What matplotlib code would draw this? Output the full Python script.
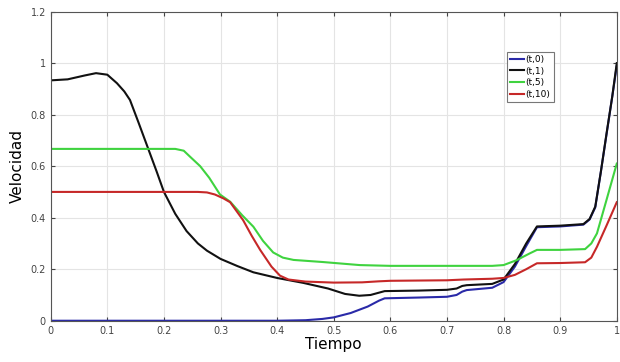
import numpy as np
from matplotlib import pyplot as plt

# values
x_t0 = [0, 0.1, 0.2, 0.3, 0.4, 0.45, 0.48, 0.5, 0.53, 0.56, 0.58, 0.59, 0.65, 0.7, 0.717, 0.727, 0.735, 0.78, 0.8, 0.82, 0.84, 0.859, 0.9, 0.941, 0.952, 0.962, 0.972, 0.982, 0.992, 1.0]
y_t0 = [0, 0, 0, 0, 0, 0.002, 0.007, 0.013, 0.03, 0.055, 0.078, 0.087, 0.09, 0.093, 0.1, 0.113, 0.119, 0.128, 0.15, 0.21, 0.29, 0.363, 0.366, 0.373, 0.393, 0.44, 0.58, 0.725, 0.87, 0.99]

x_t1 = [0, 0.03, 0.06, 0.08, 0.1, 0.117, 0.13, 0.14, 0.155, 0.172, 0.187, 0.2, 0.22, 0.24, 0.26, 0.276, 0.3, 0.33, 0.358, 0.4, 0.446, 0.49, 0.52, 0.545, 0.565, 0.59, 0.65, 0.7, 0.717, 0.727, 0.735, 0.78, 0.8, 0.82, 0.84, 0.859, 0.9, 0.941, 0.952, 0.962, 0.972, 0.982, 0.992, 1.0]
y_t1 = [0.933, 0.937, 0.952, 0.961, 0.955, 0.922, 0.89, 0.857, 0.77, 0.669, 0.58, 0.5, 0.415, 0.348, 0.3, 0.272, 0.24, 0.212, 0.188, 0.166, 0.147, 0.125, 0.104, 0.097, 0.1, 0.115, 0.117, 0.12, 0.125, 0.135, 0.138, 0.143, 0.16, 0.22, 0.3, 0.366, 0.369, 0.375, 0.395, 0.443, 0.58, 0.728, 0.87, 1.0]

x_t5 = [0, 0.1, 0.2, 0.22, 0.235, 0.246, 0.264, 0.28, 0.299, 0.317, 0.338, 0.358, 0.375, 0.393, 0.41, 0.429, 0.48, 0.546, 0.6, 0.7, 0.78, 0.8, 0.823, 0.845, 0.859, 0.9, 0.944, 0.955, 0.965, 0.982, 1.0]
y_t5 = [0.667, 0.667, 0.667, 0.667, 0.66, 0.637, 0.6, 0.555, 0.49, 0.462, 0.41, 0.365, 0.31, 0.265, 0.245, 0.236, 0.228, 0.216, 0.213, 0.213, 0.213, 0.216, 0.235, 0.26, 0.275, 0.275, 0.278, 0.3, 0.339, 0.47, 0.61]

x_t10 = [0, 0.1, 0.2, 0.26, 0.276, 0.29, 0.305, 0.317, 0.34, 0.355, 0.37, 0.39, 0.405, 0.42, 0.45, 0.5, 0.55, 0.58, 0.6, 0.7, 0.73, 0.78, 0.8, 0.82, 0.84, 0.859, 0.9, 0.944, 0.955, 0.965, 0.982, 1.0]
y_t10 = [0.5, 0.5, 0.5, 0.5, 0.498, 0.49, 0.475, 0.46, 0.39, 0.33, 0.275, 0.21, 0.175, 0.16, 0.152, 0.148, 0.149, 0.153, 0.155, 0.157, 0.16, 0.163, 0.166, 0.178, 0.2, 0.223, 0.224, 0.227, 0.245, 0.287, 0.37, 0.46]

labels = ['(t,0)', '(t,1)', '(t,5)', '(t,10)']
colors = ['#2a2aa8', '#111111', '#3fd33f', '#c62828']

fig = plt.figure(figsize=(6.2, 3.62), dpi=100)
ax = fig.add_axes([0.0818, 0.114, 0.913, 0.854])

ax.plot(x_t0, y_t0, color=colors[0], lw=1.5, label=labels[0])
ax.plot(x_t1, y_t1, color=colors[1], lw=1.5, label=labels[1])
ax.plot(x_t5, y_t5, color=colors[2], lw=1.5, label=labels[2])
ax.plot(x_t10, y_t10, color=colors[3], lw=1.5, label=labels[3])

ax.set_xlim(0, 1)
ax.set_ylim(0, 1.2)
ax.set_xticks(np.arange(0, 1.01, 0.1))
ax.set_xticklabels(['0', '0.1', '0.2', '0.3', '0.4', '0.5', '0.6', '0.7', '0.8', '0.9', '1'])
ax.set_yticks([0, 0.2, 0.4, 0.6, 0.8, 1.0, 1.2])
ax.set_yticklabels(['0', '0.2', '0.4', '0.6', '0.8', '1', '1.2'])
ax.tick_params(direction='in', labelsize=7, colors='#444444', length=3, top=True, right=True)
ax.grid(True, color='#e4e4e4', lw=0.8)
for s in ax.spines.values():
    s.set_color('#555555')
    s.set_linewidth(0.8)

ax.set_xlabel('Tiempo', fontsize=11, labelpad=1)
ax.set_ylabel('Velocidad', fontsize=11, labelpad=4)

leg = ax.legend(loc='upper left', bbox_to_anchor=(0.806, 0.87), borderaxespad=0,
                fontsize=6.5, handlelength=1.5, handletextpad=0.2, borderpad=0.35,
                labelspacing=0.3, fancybox=False, framealpha=1)
leg.get_frame().set_edgecolor('#777777')
leg.get_frame().set_linewidth(0.8)

plt.savefig('out.png', dpi=100)
